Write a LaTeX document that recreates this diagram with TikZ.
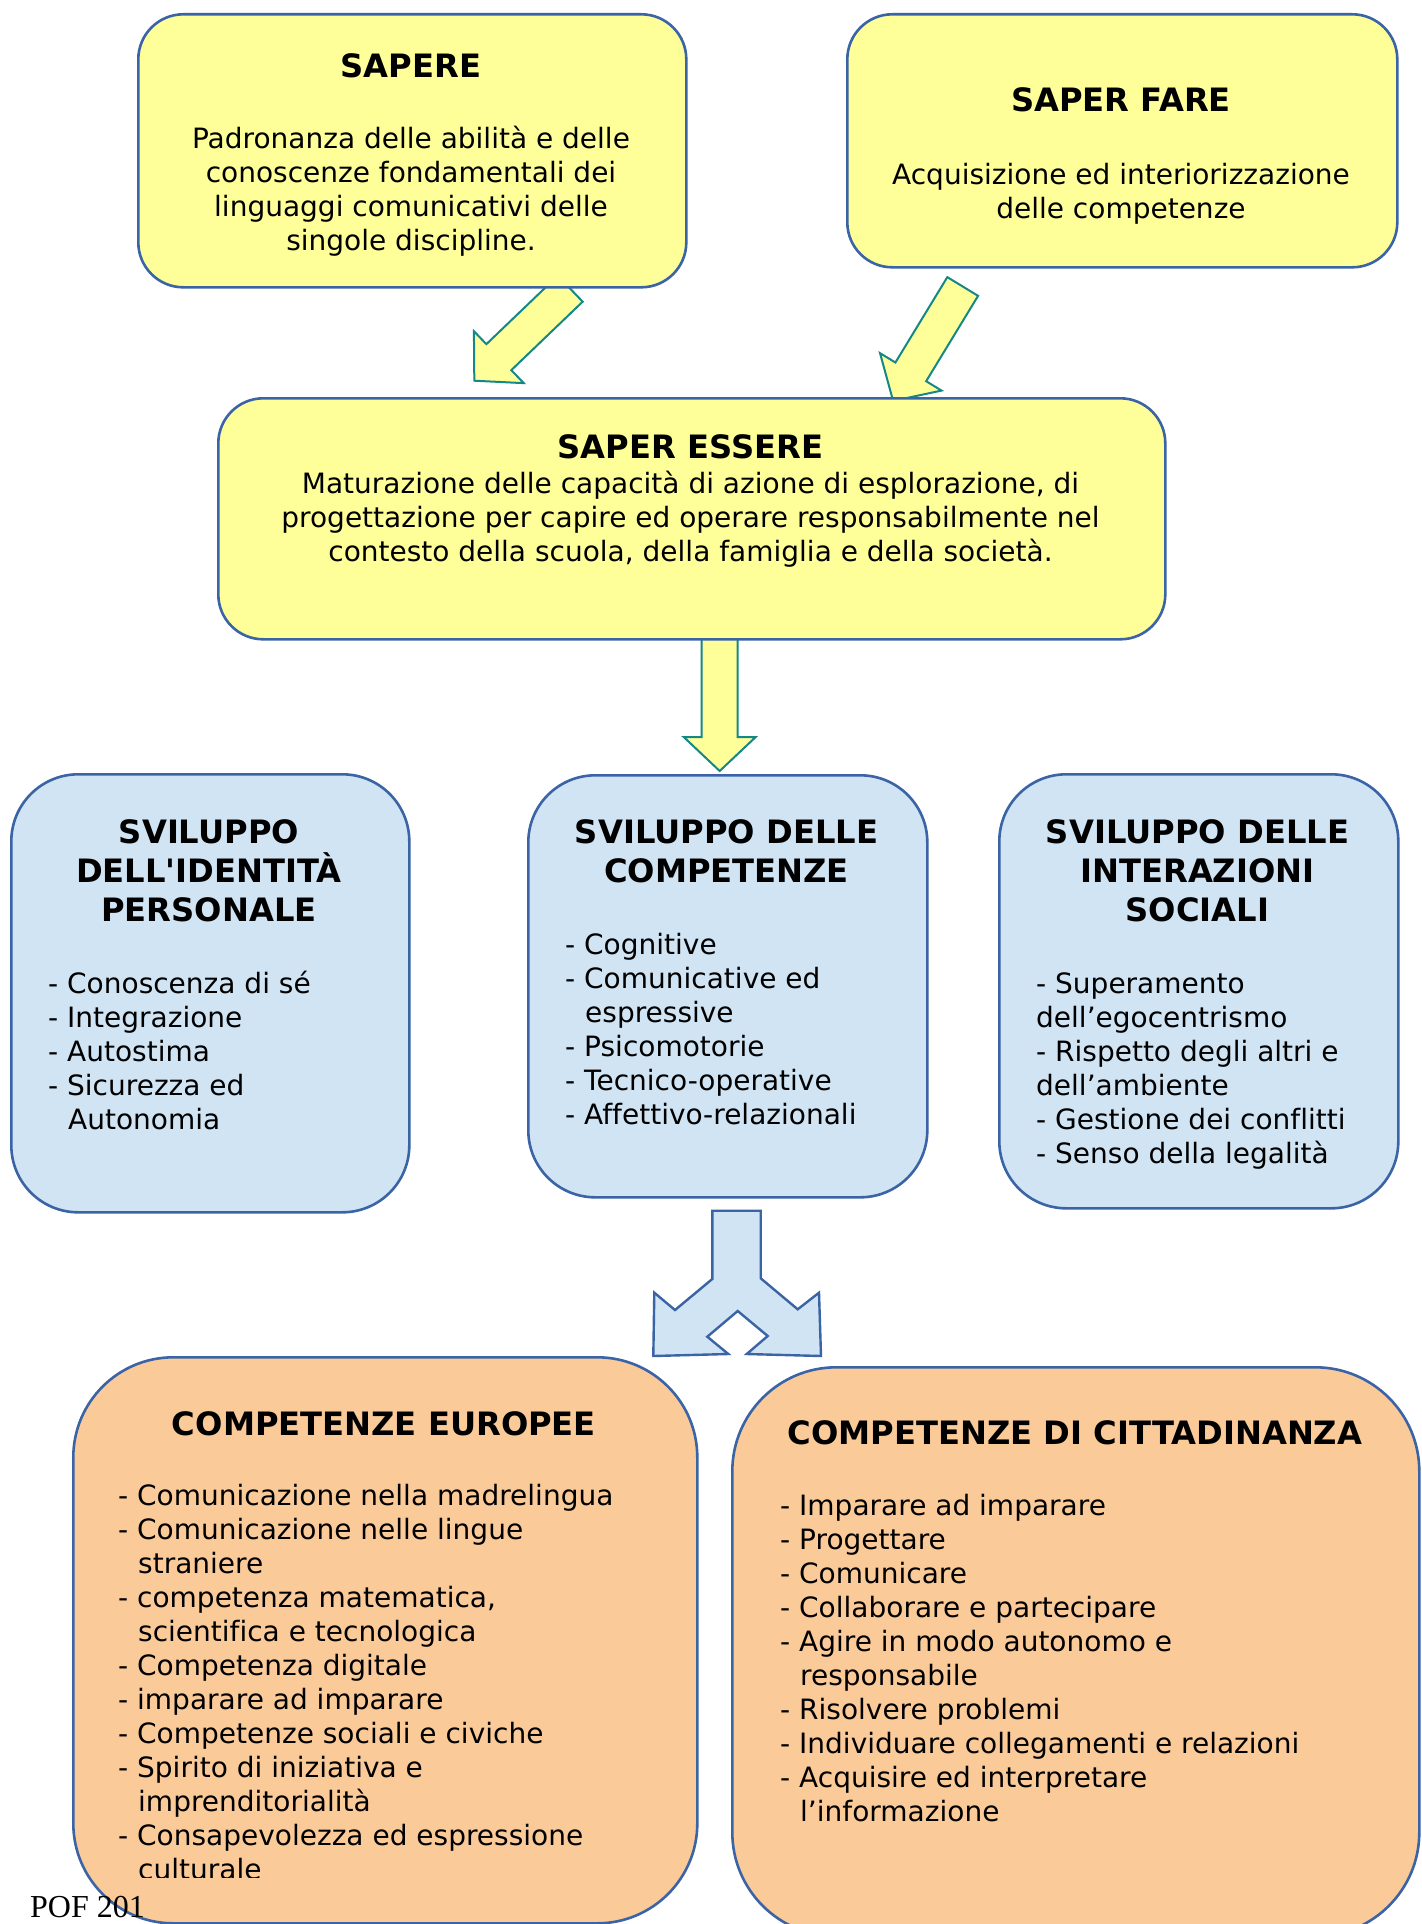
\documentclass[tikz,border=0pt]{standalone}
\usepackage{fontspec}
\newfontfamily\dvs{DejaVu Sans}[Ligatures=CommonOff]
\newfontfamily\tms{Liberation Serif}
\usetikzlibrary{calc}

\definecolor{boxline}{RGB}{58,100,165}
\definecolor{ylw}{RGB}{255,255,153}
\definecolor{arrline}{RGB}{20,135,135}
\definecolor{lblue}{RGB}{208,228,243}
\definecolor{peach}{RGB}{251,202,153}

\tikzset{
  panel/.style={draw=boxline, line width=2.6pt, inner sep=0pt, anchor=north west},
  ybox/.style={panel, fill=ylw, rounded corners=45pt},
  bbox/.style={panel, fill=lblue, rounded corners=67pt},
  obox/.style={panel, fill=peach, rounded corners=100pt},
  % multi-line texts are placed by the baseline of their last line
  ttl/.style={inner sep=0pt, anchor=base, align=center,
    font=\dvs\bfseries\fontsize{32.2}{39}\selectfont},
  txt/.style={inner sep=0pt, anchor=base, align=center,
    font=\dvs\fontsize{28}{34}\selectfont},
  lst/.style={inner sep=0pt, anchor=base west, align=left,
    font=\dvs\fontsize{28}{34}\selectfont},
  yarrow/.style={fill=ylw, draw=arrline, line width=2pt, line join=miter},
  barrow/.style={fill=lblue, draw=boxline, line width=2.4pt, line join=miter},
}

% block arrow from tail point #2 to tip point #3
\newcommand\blockarrow[3][]{%
  \coordinate (ba-h) at ($(#3)!34pt!(#2)$);
  \draw[#1] ($(#2)!18pt!90:(#3)$) -- ($(ba-h)!18pt!90:(#3)$)
    -- ($(ba-h)!36pt!90:(#3)$) -- (#3) -- ($(ba-h)!36pt!-90:(#3)$)
    -- ($(ba-h)!18pt!-90:(#3)$) -- ($(#2)!18pt!-90:(#3)$) -- cycle;}

\newcommand\ind{\hspace*{20pt}}

\begin{document}
\begin{tikzpicture}[x=1pt,y=-1pt]
\useasboundingbox (0,0) rectangle (1421,1924);
\clip (0,0) rectangle (1421,1924);
\fill[white] (0,0) rectangle (1421,1924);

% arrow ends
\coordinate (a1t) at (570.2,288.7);
\coordinate (a1p) at (474.3,380.7);
\coordinate (a2t) at (962.7,286.5);
\coordinate (a2p) at (893.1,400.9);
\coordinate (a3t) at (719.7,615);
\coordinate (a3p) at (719.7,771);

% yellow block arrows (drawn under the boxes)
\blockarrow[yarrow]{a1t}{a1p}
\blockarrow[yarrow]{a2t}{a2p}
\blockarrow[yarrow]{a3t}{a3p}

% split arrow towards the two bottom boxes
\draw[barrow] (712.3,1210.7) -- (760.7,1210.7) -- (760.7,1278.3)
  -- (797.7,1309.3) -- (819,1292.7) -- (821,1356) -- (746.7,1354)
  -- (767.7,1336) -- (737.7,1311) -- (707.3,1336.7) -- (728.3,1354)
  -- (653.3,1356) -- (654.3,1292.7) -- (675,1310) -- (712.3,1279) -- cycle;

% boxes
\node[ybox, minimum width=548pt, minimum height=273pt] (sapere) at (137,13) {};
\node[ybox, minimum width=550pt, minimum height=253pt] (saperfare) at (846,13) {};
\node[ybox, minimum width=947pt, minimum height=241pt] (saperessere) at (217,397) {};
\node[bbox, minimum width=398pt, minimum height=438pt] (identita) at (10,773) {};
\node[bbox, minimum width=399pt, minimum height=422pt] (competenze) at (527,774) {};
\node[bbox, minimum width=399pt, minimum height=434pt] (interazioni) at (998,773) {};
\node[obox, minimum width=624pt, minimum height=566pt] (europee) at (72,1356) {};
\node[obox, rounded corners=104pt, minimum width=687pt, minimum height=569pt] (cittadinanza) at (731,1366) {};

% footer
\node[inner sep=0pt, anchor=base west, font=\tms\fontsize{32}{32}\selectfont]
  (pof) at (30,1917) {POF 201};

% yellow box texts
\node[ttl] (sapere-t) at (411,77.5) {SAPERE};
\node[txt] (sapere-b) at (411,250.8) {Padronanza delle abilità e delle\\conoscenze fondamentali dei\\linguaggi comunicativi delle\\singole discipline.};

\node[ttl] (saperfare-t) at (1121,111.7) {SAPER FARE};
\node[txt] (saperfare-b) at (1121,218.8) {Acquisizione ed interiorizzazione\\delle competenze};

\node[ttl] (saperessere-t) at (690.5,458.3) {SAPER ESSERE};
\node[txt] (saperessere-b) at (690.5,561.8) {Maturazione delle capacità di azione di esplorazione, di\\progettazione per capire ed operare responsabilmente nel\\contesto della scuola, della famiglia e della società.};

% blue box texts
\node[ttl] (identita-t) at (209,921.5) {SVILUPPO\\DELL'IDENTITÀ\\PERSONALE};
\node[lst] (identita-l) at (48,1129.3) {- Conoscenza di sé\\- Integrazione\\- Autostima\\- Sicurezza ed\\\ind Autonomia};

\node[ttl] (competenze-t) at (726.5,882) {SVILUPPO DELLE\\COMPETENZE};
\node[lst] (competenze-l) at (565,1124.3) {- Cognitive\\- Comunicative ed\\\ind espressive\\- Psicomotorie\\- Tecnico-operative\\- Affettivo-relazionali};

\node[ttl] (interazioni-t) at (1197.5,921.3) {SVILUPPO DELLE\\INTERAZIONI\\SOCIALI};
\node[lst] (interazioni-l) at (1036,1163.3) {- Superamento\\dell’egocentrismo\\- Rispetto degli altri e\\dell’ambiente\\- Gestione dei conflitti\\- Senso della legalità};

% orange box texts
\node[ttl] (europee-t) at (384,1435) {COMPETENZE EUROPEE};
\begin{scope}
  \clip (0,0) rectangle (1421,1877);
  \node[lst] (europee-l) at (118,1879.7) {- Comunicazione nella madrelingua\\- Comunicazione nelle lingue\\\ind straniere\\- competenza matematica,\\\ind scientifica e tecnologica\\- Competenza digitale\\- imparare ad imparare\\- Competenze sociali e civiche\\- Spirito di iniziativa e\\\ind imprenditorialità\\- Consapevolezza ed espressione\\\ind culturale};
\end{scope}

\node[ttl] (cittadinanza-t) at (1075,1444.3) {COMPETENZE DI CITTADINANZA};
\node[lst] (cittadinanza-l) at (780,1821.5) {- Imparare ad imparare\\- Progettare\\- Comunicare\\- Collaborare e partecipare\\- Agire in modo autonomo e\\\ind responsabile\\- Risolvere problemi\\- Individuare collegamenti e relazioni\\- Acquisire ed interpretare\\\ind l’informazione};
\end{tikzpicture}
\end{document}
